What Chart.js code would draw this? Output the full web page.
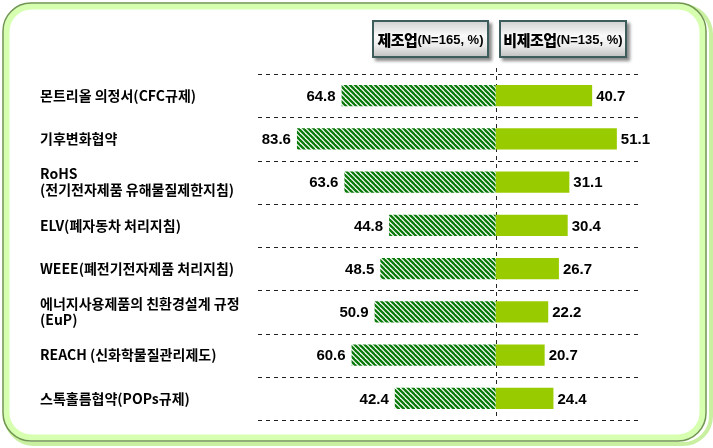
<!DOCTYPE html>
<html><head><meta charset="utf-8">
<script src="https://cdn.jsdelivr.net/npm/chart.js@4.4.0/dist/chart.umd.min.js"></script>
<style>
html,body{margin:0;padding:0;background:#fff;overflow:hidden;}
#wrap{position:relative;width:713px;height:448px;}
#c{position:absolute;left:0;top:0;}
.hdr{position:absolute;top:20px;height:34px;border:2px solid #3d5c5c;box-shadow:3px 3px 3px #8a8a8a;
background:linear-gradient(#d4d4d4,#fafafa 40%,#ececec 70%,#c4c4c4);display:flex;align-items:center;justify-content:center;
font-family:"Noto Sans CJK KR";font-weight:bold;color:#000;white-space:nowrap;}
.hdr b{font-size:15px;letter-spacing:-0.5px}
.hdr span{font-size:13px;font-family:"Liberation Sans Narrow","Liberation Sans",sans-serif;font-weight:bold;}
</style></head>
<body>
<div id="wrap">
<canvas id="c" width="713" height="448"></canvas>
<div class="hdr" id="h0" style="left:372px;width:113px;"></div>
<div class="hdr" id="h1" style="left:499px;width:124px;"></div>
</div>
<script>
const categories = [
  '몬트리올 의정서(CFC규제)',
  '기후변화협약',
  ['RoHS', '(전기전자제품 유해물질제한지침)'],
  'ELV(폐자동차 처리지침)',
  'WEEE(폐전기전자제품 처리지침)',
  ['에너지사용제품의 친환경설계 규정', '(EuP)'],
  'REACH (신화학물질관리제도)',
  '스톡홀름협약(POPs규제)'
];
const seriesNames = ['제조업', '비제조업'];
const seriesN = ['(N=165, %)', '(N=135, %)'];
const manufacturing = [64.8, 83.6, 63.6, 44.8, 48.5, 50.9, 60.6, 42.4];
const nonManufacturing = [40.7, 51.1, 31.1, 30.4, 26.7, 22.2, 20.7, 24.4];

['h0','h1'].forEach((id,i)=>{
  const el=document.getElementById(id);
  const b=document.createElement('b'); b.textContent=seriesNames[i];
  const s=document.createElement('span'); s.textContent=seriesN[i];
  el.appendChild(b); el.appendChild(s);
});

const canvas=document.getElementById('c');
const ctx0=canvas.getContext('2d');
function hatch(){
  const t=document.createElement('canvas'); t.width=5; t.height=5;
  const g=t.getContext('2d');
  g.fillStyle='#ffffff'; g.fillRect(0,0,5,5);
  g.strokeStyle='#0a7a0a'; g.lineWidth=2.3;
  for(let k=-5;k<=5;k+=5){ g.beginPath(); g.moveTo(k-2,-2); g.lineTo(k+7,7); g.stroke(); }
  return ctx0.createPattern(t,'repeat');
}

const framePlugin={
  id:'frame',
  beforeDraw(chart){
    const ctx=chart.ctx; ctx.save();
    ctx.fillStyle='#fff'; ctx.fillRect(0,0,chart.width,chart.height);
    ctx.strokeStyle='#c8f0a0'; ctx.lineWidth=4;
    ctx.beginPath(); ctx.roundRect(6,6,705,438,28); ctx.stroke();
    ctx.strokeStyle='#d6ffb0'; ctx.lineWidth=6;
    ctx.beginPath(); ctx.roundRect(6.5,6.5,696,431,25); ctx.stroke();
    ctx.strokeStyle='#6f9550'; ctx.lineWidth=1.5;
    ctx.beginPath(); ctx.roundRect(3,3,703,438,28); ctx.stroke();
    ctx.restore();
  },
  beforeDatasetsDraw(chart){
    const ctx=chart.ctx, y=chart.scales.y, x=chart.scales.x, a=chart.chartArea;
    ctx.save(); ctx.setLineDash([4,4]); ctx.strokeStyle='#222'; ctx.lineWidth=1;
    for(let i=0;i<=categories.length;i++){
      const yy=Math.round(y.getPixelForValue(i-0.5))+0.5;
      ctx.beginPath(); ctx.moveTo(a.left,yy); ctx.lineTo(a.right,yy); ctx.stroke();
    }
    const x0=Math.round(x.getPixelForValue(0))+0.5;
    ctx.beginPath(); ctx.moveTo(x0,a.top-6); ctx.lineTo(x0,a.bottom); ctx.stroke();
    ctx.restore();
  },
  afterDatasetsDraw(chart){
    const ctx=chart.ctx; ctx.save();
    ctx.font='bold 15px "Liberation Sans"'; ctx.fillStyle='#000'; ctx.textBaseline='middle';
    chart.getDatasetMeta(0).data.forEach((bar,i)=>{ ctx.textAlign='right'; ctx.fillText(manufacturing[i].toFixed(1), bar.x-6, bar.y+1); });
    chart.getDatasetMeta(1).data.forEach((bar,i)=>{ ctx.textAlign='left'; ctx.fillText(nonManufacturing[i].toFixed(1), bar.x+4, bar.y+1); });
    ctx.restore();
  }
};

new Chart(canvas,{
  type:'bar',
  data:{
    labels:categories,
    datasets:[
      {label:seriesNames[0], data:manufacturing.map(v=>-v), backgroundColor:hatch(), borderWidth:0, categoryPercentage:1, barPercentage:0.49},
      {label:seriesNames[1], data:nonManufacturing, backgroundColor:'#99cc00', borderWidth:0, categoryPercentage:1, barPercentage:0.49}
    ]
  },
  options:{
    indexAxis:'y', responsive:false, animation:false,
    layout:{padding:{left:40,right:75,top:74,bottom:28}},
    plugins:{legend:{display:false}, tooltip:{enabled:false}},
    scales:{
      x:{type:'linear', stacked:true, min:-100, max:60, display:false},
      y:{stacked:true, offset:true, grid:{display:false}, border:{display:false},
         ticks:{crossAlign:'far', padding:0, color:'#000', font:{family:'"Noto Sans CJK KR"', size:14, weight:'bold', lineHeight:1.15}},
         afterFit(s){ s.width=218; }}
    }
  },
  plugins:[framePlugin]
});
</script>
</body></html>
